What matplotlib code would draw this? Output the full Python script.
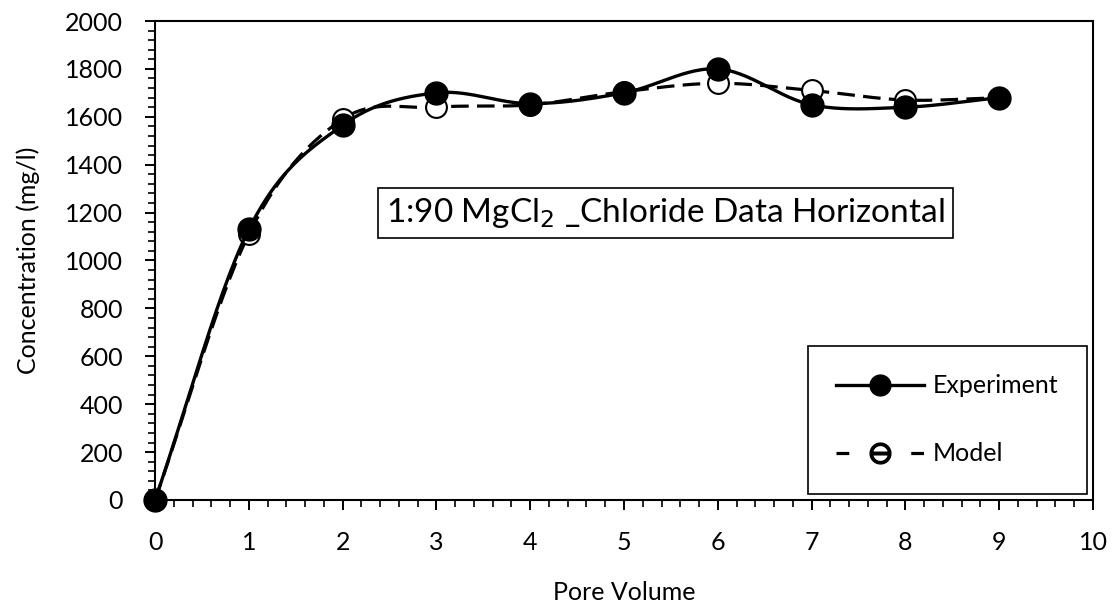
import numpy as np
import matplotlib
matplotlib.use("Agg")
import matplotlib.pyplot as plt
from matplotlib.ticker import MultipleLocator

plt.rcParams['font.family'] = ['Lato', 'DejaVu Sans']

pore_volume = [0, 1, 2, 3, 4, 5, 6, 7, 8, 9]
experiment = [0, 1130, 1565, 1700, 1655, 1700, 1800, 1650, 1640, 1680]
model = [0, 1110, 1590, 1640, 1650, 1705, 1740, 1710, 1670, 1680]


def smooth(x, y, n=30):
    """Catmull-Rom curve through the points, like a spreadsheet smoothed line."""
    x = np.asarray(x, float)
    y = np.asarray(y, float)
    px = np.concatenate([[2 * x[0] - x[1]], x, [2 * x[-1] - x[-2]]])
    py = np.concatenate([[2 * y[0] - y[1]], y, [2 * y[-1] - y[-2]]])
    xs, ys = [], []
    t = np.linspace(0, 1, n)
    for i in range(1, len(px) - 2):
        for p, out in ((px, xs), (py, ys)):
            p0, p1, p2, p3 = p[i - 1], p[i], p[i + 1], p[i + 2]
            out.extend(0.5 * ((2 * p1) + (-p0 + p2) * t
                              + (2 * p0 - 5 * p1 + 4 * p2 - p3) * t ** 2
                              + (-p0 + 3 * p1 - 3 * p2 + p3) * t ** 3))
    return np.array(xs), np.array(ys)


fig = plt.figure(figsize=(11.17, 6.07), dpi=100)
ax = fig.add_axes([0.1388, 0.1763, 0.8397, 0.7891])

mx, my = smooth(pore_volume, model)
ax.plot(mx, my, color='black', lw=2.3, ls=(0, (5.5, 2.6)), zorder=2)
ax.plot(pore_volume, model, ls='none', marker='o', ms=15, mfc='white',
        mec='black', mew=1.5, zorder=3, clip_on=False)

ex, ey = smooth(pore_volume, experiment)
ax.plot(ex, ey, color='black', lw=2.4, zorder=4)
ax.plot(pore_volume, experiment, ls='none', marker='o', ms=16.5,
        mfc='black', mec='black', zorder=5, clip_on=False)

# legend proxies
h_exp, = ax.plot([], [], color='black', lw=2.4, marker='o', ms=15,
                 mfc='black', mec='black')
h_mod, = ax.plot([], [], color='black', lw=2.3, ls=(0, (4, 19.4)),
                 marker='$\\ominus$', ms=15, mec='black')
leg = ax.legend([h_exp, h_mod], ['Experiment', 'Model'],
                loc='lower right', bbox_to_anchor=(1087 / 1117, 113 / 607),
                bbox_transform=fig.transFigure,
                fontsize=18, frameon=True, fancybox=False, edgecolor='black',
                framealpha=1, labelspacing=1.8, borderpad=1.15,
                handlelength=3.5, handletextpad=0.35, borderaxespad=0)
leg.get_frame().set_linewidth(1.2)

ax.text(5.44, 1198, r'1:90 MgCl$_2$ _Chloride Data Horizontal', fontsize=24,
        ha='center', va='center',
        bbox=dict(boxstyle='square,pad=0.25', fc='white', ec='black', lw=1.2))

ax.set_xlim(0, 10)
ax.set_ylim(0, 2000)
ax.xaxis.set_major_locator(MultipleLocator(1))
ax.xaxis.set_minor_locator(MultipleLocator(0.2))
ax.yaxis.set_major_locator(MultipleLocator(200))
ax.yaxis.set_minor_locator(MultipleLocator(40))
ax.tick_params(axis='x', which='major', length=7, width=1.4, labelsize=18, pad=15)
ax.tick_params(axis='y', which='major', length=7, width=1.4, labelsize=18, pad=16)
ax.tick_params(which='minor', length=5, width=1.2)
for s in ax.spines.values():
    s.set_linewidth(1.5)

ax.set_xlabel('Pore Volume', fontsize=18, labelpad=20)
ax.set_ylabel('Concentration (mg/l)', fontsize=18, labelpad=18)

fig.savefig('out.png', dpi=100)
